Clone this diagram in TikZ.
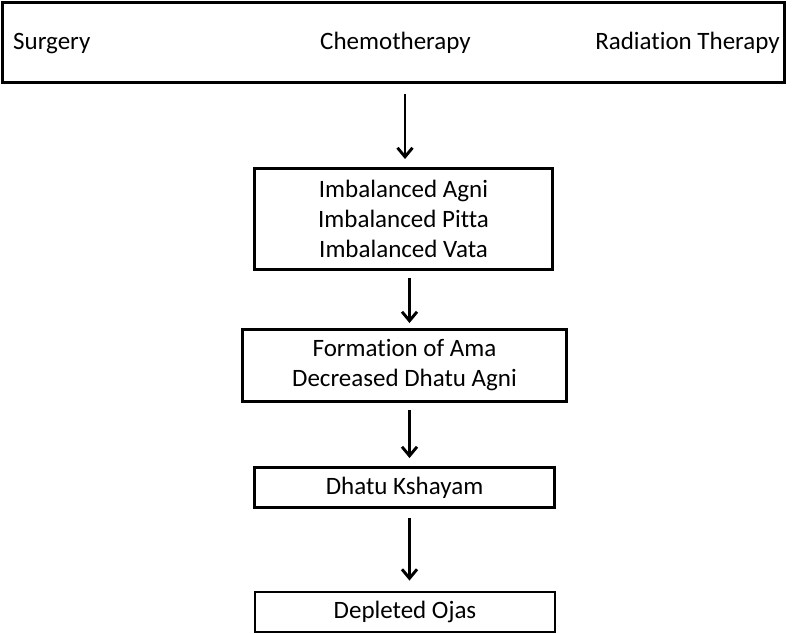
\documentclass[tikz,border=0pt]{standalone}
\usepackage{fontspec}
\setmainfont[Ligatures=NoCommon]{Carlito}
\usetikzlibrary{arrows.meta}
\begin{document}
\begin{tikzpicture}[x=1pt,y=-1pt,
  box/.style={draw=black,line width=2.9pt,inner sep=0pt,align=center,
    font=\fontsize{25}{30}\selectfont},
  lbl/.style={inner sep=0pt,font=\fontsize{25}{28}\selectfont},
  arr/.style={line width=2.9pt,-{Straight Barb[length=9pt,width=15pt,line width=2.9pt]}}]
\useasboundingbox (0,0) rectangle (792,634);
\node[box,minimum width=782pt,minimum height=80pt] (top) at (393.5,42.5) {};
\node[lbl,anchor=base west] (s) at (13,50) {Surgery};
\node[lbl,anchor=base west] (c) at (320,50) {Chemotherapy};
\node[lbl,anchor=base east] (r) at (780,50) {Radiation Therapy};
\node[box,minimum width=298pt,minimum height=101pt] (b2) at (403.5,219) {Imbalanced Agni\\Imbalanced Pitta\\Imbalanced Vata};
\node[box,minimum width=324pt,minimum height=72pt] (b3) at (404.5,365.5) {Formation of Ama\\Decreased Dhatu Agni};
\node[box,minimum width=300pt,minimum height=40pt] (b4) at (404.5,487.5) {Dhatu Kshayam};
\node[box,minimum width=300pt,minimum height=40pt] (b5) at (405,612) {Depleted Ojas};
\draw[arr,shorten <=10pt,shorten >=8pt] ([xshift=1.5pt]top.south -| b2.north) -- ([xshift=1.5pt]b2.north);
\draw[arr,shorten <=7pt,shorten >=5pt] ([xshift=6pt]b2.south) -- ([xshift=6pt]b2.south |- b3.north);
\draw[arr,shorten <=7pt,shorten >=8pt] ([xshift=5pt]b3.south -| b4.north) -- ([xshift=5pt]b4.north);
\draw[arr,shorten <=9pt,shorten >=10pt] ([xshift=5pt]b4.south) -- ([xshift=5pt]b4.south |- b5.north);
\end{tikzpicture}
\end{document}
